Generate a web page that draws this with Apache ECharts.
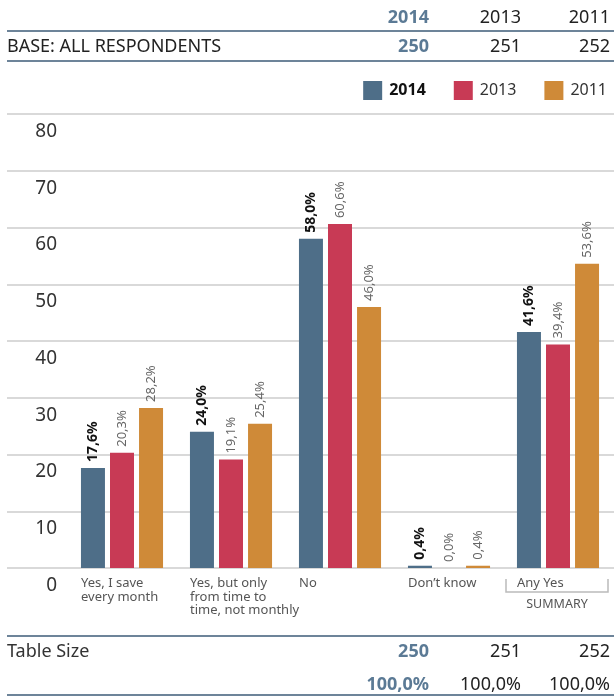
<!DOCTYPE html>
<html><head><meta charset="utf-8">
<script src="https://cdn.jsdelivr.net/npm/echarts@6/dist/echarts.min.js"></script>
<style>html,body{margin:0;padding:0;background:#fff}#c{width:614px;height:697px}</style>
</head><body><div id="c"></div>
<script>
const categories = ['Yes, I save\nevery month', 'Yes, but only\nfrom time to\ntime, not monthly', 'No', 'Don\u2019t know', 'Any Yes'];
const years = ['2014', '2013', '2011'];
const v2014 = [17.6, 24.0, 58.0, 0.4, 41.6];
const v2013 = [20.3, 19.1, 60.6, 0.0, 39.4];
const v2011 = [28.2, 25.4, 46.0, 0.4, 53.6];
const baseN = [250, 251, 252];
const tableSize = [250, 251, 252];
const tablePct = [100.0, 100.0, 100.0];
const yMin = 0, yMax = 80, yStep = 10;
const summaryLabel = 'SUMMARY';

const FONT = 'Noto Sans';
const BLUE = '#4e6e88', RED = '#c83a55', ORANGE = '#cf8a38';
const HEAD_BLUE = '#5b7a95', LINE_BLUE = '#6d8499';
const fmt = v => v.toFixed(1).replace('.', ',') + '%';

const chart = echarts.init(document.getElementById('c'));
const colRight = [429, 521, 610];

function tableRow(values, y, formatter) {
  return values.map((v, i) => ({
    type: 'text', x: colRight[i], y: y,
    style: {
      text: formatter(v), align: 'right', verticalAlign: 'middle',
      font: (i === 0 ? 'bold ' : '') + '18px "' + FONT + '"',
      fill: i === 0 ? HEAD_BLUE : '#222'
    }
  }));
}
function hline(y, color) {
  return { type: 'line', shape: { x1: 7, y1: y, x2: 614, y2: y }, style: { stroke: color, lineWidth: 2 } };
}

const graphics = [].concat(
  tableRow(years, 18, s => s),
  [hline(31, LINE_BLUE)],
  [{ type: 'text', x: 7, y: 47, style: { text: 'BASE: ALL RESPONDENTS', verticalAlign: 'middle', font: '18px "' + FONT + '"', fill: '#222' } }],
  tableRow(baseN, 47, v => String(v)),
  [hline(61, LINE_BLUE)],
  [hline(636, LINE_BLUE)],
  [{ type: 'text', x: 7, y: 652, style: { text: 'Table Size', verticalAlign: 'middle', font: '18px "' + FONT + '"', fill: '#333' } }],
  tableRow(tableSize, 652, v => String(v)),
  tableRow(tablePct, 685, v => v.toFixed(1).replace('.', ',') + '%'),
  [hline(695, LINE_BLUE)]
);

function barSeries(name, data, color, bold) {
  return {
    name: name, type: 'bar', xAxisIndex: 1, yAxisIndex: 1, data: data,
    barWidth: 24, barGap: '21%',
    itemStyle: { color: color },
    label: {
      show: true, position: 'top', rotate: 90, align: 'left', verticalAlign: 'middle',
      distance: 6, formatter: p => fmt(p.value),
      fontFamily: FONT, fontSize: bold ? 14 : 13,
      fontWeight: bold ? 'bold' : 'normal',
      color: bold ? '#111' : '#666'
    }
  };
}

chart.setOption({
  animation: false,
  textStyle: { fontFamily: FONT },
  grid: [
    { left: 7, right: 0, top: 114, bottom: 129 },
    { left: 67.5, right: 1.5, top: 114, bottom: 129 }
  ],
  legend: {
    right: 7, top: 81, padding: 0, itemWidth: 19, itemHeight: 19, itemGap: 28, icon: 'rect',
    textStyle: { fontFamily: FONT, fontSize: 16, color: '#333', padding: [0, 0, 0, 2] },
    data: [
      { name: '2014', textStyle: { fontWeight: 'bold', color: '#111' } },
      { name: '2013' },
      { name: '2011' }
    ]
  },
  xAxis: [
    { gridIndex: 0, type: 'category', data: ['a'], show: false },
    {
      gridIndex: 1, type: 'category', data: categories,
      axisLine: { show: false }, axisTick: { show: false },
      axisLabel: {
        interval: 0, align: 'left', margin: 9, padding: [0, 0, 0, -41],
        fontFamily: FONT, fontSize: 13, lineHeight: 13.5, color: '#555'
      }
    }
  ],
  yAxis: [
    {
      gridIndex: 0, type: 'value', min: yMin, max: yMax, interval: yStep,
      axisLine: { show: false }, axisTick: { show: false },
      splitLine: { lineStyle: { color: '#cccccc', width: 1.6 } },
      axisLabel: {
        inside: true, align: 'right', margin: 50, verticalAlign: 'top', padding: [8, 0, 0, 0],
        fontFamily: FONT, fontSize: 19, color: '#333'
      }
    },
    { gridIndex: 1, type: 'value', min: yMin, max: yMax, interval: yStep, show: false }
  ],
  series: [
    barSeries(years[0], v2014, BLUE, true),
    barSeries(years[1], v2013, RED, false),
    barSeries(years[2], v2011, ORANGE, false)
  ],
  graphic: graphics
});

// summary bracket under the last category
const cx = chart.convertToPixel({ xAxisIndex: 1 }, categories[categories.length - 1]);
const y0 = chart.convertToPixel({ yAxisIndex: 1 }, 0);
chart.setOption({
  graphic: graphics.concat([
    { type: 'polyline', shape: { points: [[cx - 52, y0 + 11], [cx - 52, y0 + 24], [cx + 50, y0 + 24], [cx + 50, y0 + 11]] },
      style: { stroke: '#bbbbbb', lineWidth: 1.5, fill: null } },
    { type: 'text', x: cx - 1, y: y0 + 36, style: { text: summaryLabel, align: 'center', verticalAlign: 'middle', font: '12.5px "' + FONT + '"', fill: '#555' } }
  ])
});
</script>
</body></html>
